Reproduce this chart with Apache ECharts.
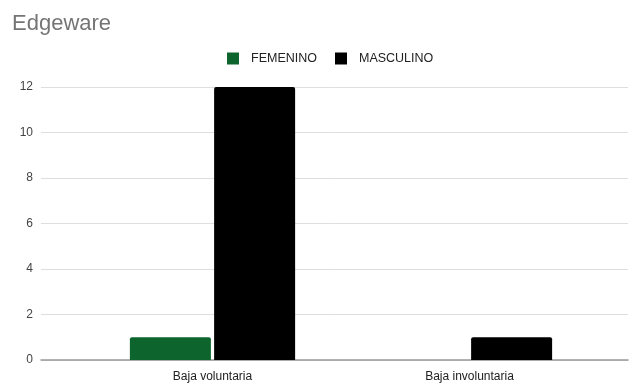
<!DOCTYPE html>
<html><head><meta charset="utf-8">
<script src="https://cdn.jsdelivr.net/npm/echarts@6/dist/echarts.min.js"></script>
<style>html,body{margin:0;padding:0;background:#fff}#c{width:632px;height:385px}</style>
</head><body><div id="c"></div>
<script>
const categories = ["Baja voluntaria", "Baja involuntaria"];
const femenino = [1, 0];
const masculino = [12, 1];
const seriesNames = ["FEMENINO", "MASCULINO"];

const chart = echarts.init(document.getElementById('c'));
const font = '"Liberation Sans", Arial, sans-serif';
chart.setOption({
  animation: false,
  title: { text: 'Edgeware', left: 7, top: 8, textStyle: { fontFamily: font, fontSize: 22, fontWeight: 'normal', color: '#757575' } },
  legend: {
    data: seriesNames, top: 47, left: 222, itemWidth: 12, itemHeight: 12, itemGap: 18,
    icon: 'rect', textStyle: { fontFamily: font, fontSize: 12.5, color: '#222', padding: [0, 0, 0, 7] }
  },
  grid: [
    { left: 41, right: 4, top: 87, bottom: 25 },
    { left: 84, right: 34, top: 87, bottom: 25 }
  ],
  xAxis: [
    { type: 'category', gridIndex: 0, data: [''], axisLine: { lineStyle: { color: '#999', width: 1.5 } }, axisTick: { show: false }, axisLabel: { show: false } },
    { type: 'category', gridIndex: 1, data: categories, axisLine: { show: false }, axisTick: { show: false },
      axisLabel: { fontFamily: font, fontSize: 12, color: '#222', margin: 11 } }
  ],
  yAxis: [
    { type: 'value', gridIndex: 0, min: 0, max: 12, interval: 2,
      axisLine: { show: false }, axisTick: { show: false },
      axisLabel: { fontFamily: font, fontSize: 12, color: '#444', margin: 8 },
      splitLine: { lineStyle: { color: '#dedede' } } },
    { type: 'value', gridIndex: 1, min: 0, max: 12, interval: 2, show: false }
  ],
  series: [
    { name: seriesNames[0], type: 'bar', xAxisIndex: 1, yAxisIndex: 1, data: femenino, barWidth: 81, barGap: '4%',
      itemStyle: { color: '#0d652d', borderRadius: [2, 2, 0, 0] } },
    { name: seriesNames[1], type: 'bar', xAxisIndex: 1, yAxisIndex: 1, data: masculino, barWidth: 81, barGap: '4%',
      itemStyle: { color: '#000000', borderRadius: [2, 2, 0, 0] } }
  ]
});
</script></body></html>
